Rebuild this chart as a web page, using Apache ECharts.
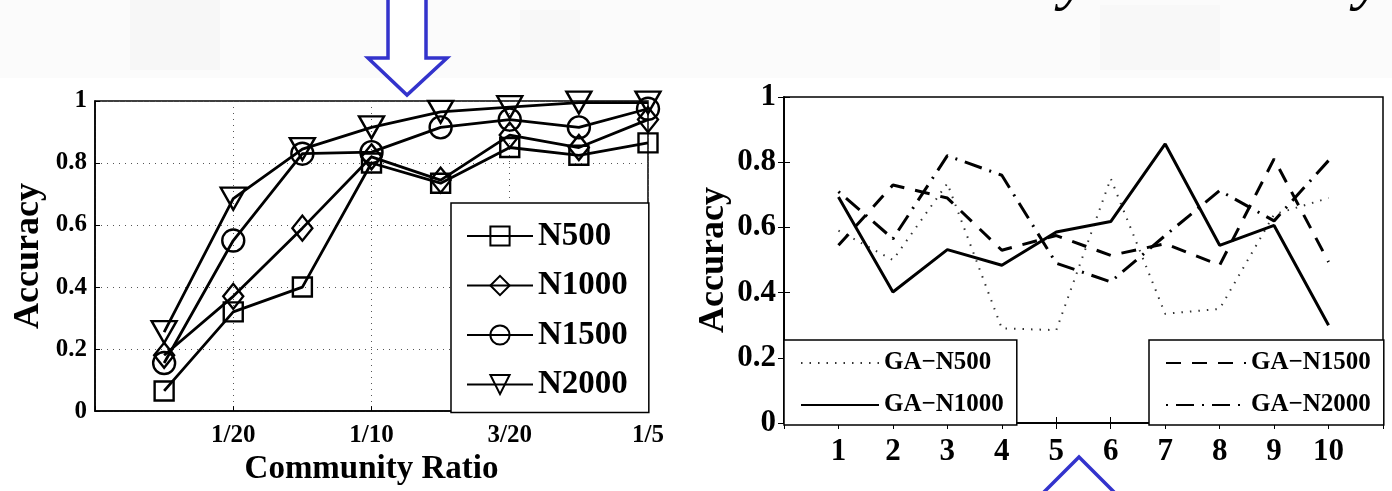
<!DOCTYPE html>
<html>
<head>
<meta charset="utf-8">
<script src="https://cdn.jsdelivr.net/npm/echarts/dist/echarts.min.js"></script>
<style>
  html, body { margin: 0; padding: 0; background: #fff; }
  #main { width: 1392px; height: 491px; }
</style>
</head>
<body>
<div id="main"></div>
<script>
// left panel: accuracy vs community ratio
var ratios = [0.025, 0.05, 0.075, 0.1, 0.125, 0.15, 0.175, 0.2];
var ratioLabels = ['', '1/20', '1/10', '3/20', '1/5'];
var accN500  = [0.065, 0.32, 0.40, 0.80, 0.735, 0.85, 0.825, 0.865];
var accN1000 = [0.18, 0.37, 0.59, 0.82, 0.745, 0.89, 0.85, 0.94];
var accN1500 = [0.155, 0.55, 0.83, 0.835, 0.915, 0.94, 0.915, 0.975];
var accN2000 = [0.255, 0.685, 0.845, 0.915, 0.965, 0.98, 0.995, 0.995];

// right panel: GA accuracy per run
var runs = [1, 2, 3, 4, 5, 6, 7, 8, 9, 10];
var gaN500  = [0.59, 0.50, 0.735, 0.29, 0.285, 0.75, 0.335, 0.35, 0.64, 0.69];
var gaN1000 = [0.693, 0.402, 0.532, 0.484, 0.586, 0.618, 0.856, 0.545, 0.606, 0.30];
var gaN1500 = [0.545, 0.73, 0.69, 0.53, 0.575, 0.514, 0.55, 0.484, 0.81, 0.494];
var gaN2000 = [0.71, 0.565, 0.82, 0.76, 0.49, 0.433, 0.575, 0.713, 0.62, 0.805];

var FONT = 'Liberation Serif';

function pairs(xs, ys) {
    return xs.map(function (x, i) { return [x, ys[i]]; });
}

// 左图折线
function markerSeries(name, data, symbol, size, rotate) {
    return {
        name: name,
        type: 'line',
        xAxisIndex: 0,
        yAxisIndex: 0,
        data: pairs(ratios, data),
        symbol: symbol,
        symbolSize: size,
        symbolRotate: rotate || 0,
        lineStyle: { color: '#000', width: 2.8 },
        itemStyle: { color: 'rgba(255,255,255,0)', borderColor: '#000', borderWidth: 2.4 },
        emphasis: { disabled: true },
        z: 3
    };
}

// 右图折线
function gaSeries(name, data, type, width, color) {
    return {
        name: name,
        type: 'line',
        xAxisIndex: 1,
        yAxisIndex: 1,
        data: pairs(runs, data),
        symbol: 'none',
        lineStyle: { color: color || '#000', width: width, type: type },
        itemStyle: { color: color || '#000' },
        emphasis: { disabled: true },
        z: 3
    };
}

var tickLabel = { fontFamily: FONT, fontWeight: 'bold', color: '#000' };

var chart = echarts.init(document.getElementById('main'));
var option = {
    animation: false,
    backgroundColor: '#fff',
    textStyle: { fontFamily: FONT },
    grid: [
        { left: 95, top: 101, width: 553, height: 311, show: true, borderColor: '#000', borderWidth: 1.5, backgroundColor: '#fff' },
        { left: 784, top: 97, width: 599, height: 326, show: true, borderColor: '#000', borderWidth: 1.5, backgroundColor: '#fff' }
    ],
    xAxis: [
        {
            gridIndex: 0, type: 'value', min: 0, max: 0.2, interval: 0.05,
            name: 'Community Ratio', nameLocation: 'middle', nameGap: 41,
            nameTextStyle: { fontFamily: FONT, fontWeight: 'bold', fontSize: 33, color: '#000' },
            axisLine: { lineStyle: { color: '#000', width: 1.5 } },
            axisTick: { inside: true, length: 5, lineStyle: { color: '#000' } },
            axisLabel: Object.assign({ fontSize: 25, margin: 12, formatter: function (v) {
                return ratioLabels[Math.round(v * 20)] || '';
            } }, tickLabel),
            splitLine: { show: true, lineStyle: { color: '#555', width: 1, type: [1, 5] } }
        },
        {
            gridIndex: 1, type: 'value', min: 0, max: 11, interval: 1,
            axisLine: { lineStyle: { color: '#000', width: 1.5 } },
            axisTick: { inside: true, length: 6, lineStyle: { color: '#000' } },
            axisLabel: Object.assign({ fontSize: 31, margin: 13, formatter: function (v) {
                return (v >= 1 && v <= 10) ? String(v) : '';
            } }, tickLabel),
            splitLine: { show: false }
        },
        {
            gridIndex: 1, type: 'value', min: 0, max: 11, interval: 1, position: 'top',
            axisLine: { lineStyle: { color: '#000', width: 1.5 } },
            axisTick: { inside: true, length: 6, lineStyle: { color: '#000' } },
            axisLabel: { show: false },
            splitLine: { show: false }
        }
    ],
    yAxis: [
        {
            gridIndex: 0, type: 'value', min: 0, max: 1, interval: 0.2,
            name: 'Accuracy', nameLocation: 'middle', nameGap: 48, nameRotate: 90,
            nameTextStyle: { fontFamily: FONT, fontWeight: 'bold', fontSize: 36, color: '#000' },
            axisLine: { lineStyle: { color: '#000', width: 1.5 } },
            axisTick: { inside: true, length: 5, lineStyle: { color: '#000' } },
            axisLabel: Object.assign({ fontSize: 25, margin: 8 }, tickLabel),
            splitLine: { show: true, lineStyle: { color: '#555', width: 1, type: [1, 5] } }
        },
        {
            gridIndex: 1, type: 'value', min: 0, max: 1, interval: 0.2,
            name: 'Accuracy', nameLocation: 'middle', nameGap: 52, nameRotate: 90,
            nameTextStyle: { fontFamily: FONT, fontWeight: 'bold', fontSize: 36, color: '#000' },
            axisLine: { lineStyle: { color: '#000', width: 1.5 } },
            axisTick: { inside: true, length: 6, lineStyle: { color: '#000' } },
            axisLabel: Object.assign({ fontSize: 31, margin: 8 }, tickLabel),
            splitLine: { show: false }
        },
        {
            gridIndex: 1, type: 'value', min: 0, max: 1, interval: 0.2, position: 'right',
            axisLine: { lineStyle: { color: '#000', width: 1.5 } },
            axisTick: { inside: true, length: 6, lineStyle: { color: '#000' } },
            axisLabel: { show: false },
            splitLine: { show: false }
        }
    ],
    legend: [
        {
            data: ['N500', 'N1000', 'N1500', 'N2000'],
            orient: 'vertical', left: 451, top: 203,
            itemWidth: 66, itemHeight: 24, itemGap: 16.5,
            padding: [16.5, 21, 11.5, 15],
            backgroundColor: '#fff', borderColor: '#000', borderWidth: 1.5, borderRadius: 0,
            textStyle: { fontFamily: FONT, fontWeight: 'bold', fontSize: 33, color: '#000' },
            selectedMode: false
        },
        {
            data: ['GA\u2212N500', 'GA\u2212N1000'],
            orient: 'vertical', left: 784, top: 340,
            itemWidth: 78, itemHeight: 14, itemGap: 17,
            padding: [10.5, 13, 7.5, 16],
            backgroundColor: '#fff', borderColor: '#000', borderWidth: 1.5, borderRadius: 0,
            itemStyle: { opacity: 0 },
            textStyle: { fontFamily: FONT, fontWeight: 'bold', fontSize: 25, color: '#000' },
            selectedMode: false
        },
        {
            data: ['GA\u2212N1500', 'GA\u2212N2000'],
            orient: 'vertical', left: 1149, top: 340,
            itemWidth: 80, itemHeight: 14, itemGap: 17,
            padding: [10.5, 13, 7.5, 16],
            backgroundColor: '#fff', borderColor: '#000', borderWidth: 1.5, borderRadius: 0,
            itemStyle: { opacity: 0 },
            textStyle: { fontFamily: FONT, fontWeight: 'bold', fontSize: 25, color: '#000' },
            selectedMode: false
        }
    ],
    graphic: [
        // faint slide background at the top
        { type: 'rect', shape: { x: 0, y: 0, width: 1392, height: 78 }, style: { fill: '#fbfbfb' }, z: -10 },
        { type: 'rect', shape: { x: 130, y: 0, width: 90, height: 70 }, style: { fill: '#f7f7f7' }, z: -9 },
        { type: 'rect', shape: { x: 520, y: 10, width: 60, height: 60 }, style: { fill: '#f8f8f8' }, z: -9 },
        { type: 'rect', shape: { x: 1100, y: 5, width: 120, height: 65 }, style: { fill: '#f8f8f8' }, z: -9 },
        // italic letters cut off at the top edge
        { type: 'text', x: 1060, y: 12, style: { text: 'y', font: 'italic 64px "Liberation Serif"', fill: '#000', verticalAlign: 'bottom' }, z: 10 },
        { type: 'text', x: 1355, y: 12, style: { text: 'y', font: 'italic 64px "Liberation Serif"', fill: '#000', verticalAlign: 'bottom' }, z: 10 },
        // blue arrows
        {
            type: 'polygon', z: 20,
            shape: { points: [[388, -5], [426, -5], [426, 58], [447, 58], [407, 95], [368, 58], [388, 58]] },
            style: { fill: '#fff', stroke: '#3333cc', lineWidth: 3.5 }
        },
        {
            type: 'polygon', z: 20,
            shape: { points: [[1079, 457], [1118, 496], [1098, 496], [1098, 520], [1060, 520], [1060, 496], [1040, 496]] },
            style: { fill: '#fff', stroke: '#3333cc', lineWidth: 3.5 }
        }
    ],
    series: [
        markerSeries('N500', accN500, 'rect', 19),
        markerSeries('N1000', accN1000, 'diamond', [20, 25]),
        markerSeries('N1500', accN1500, 'circle', 22),
        markerSeries('N2000', accN2000, 'triangle', [25, 22], 180),
        gaSeries('GA\u2212N500', gaN500, [1.5, 7], 2, '#333'),
        gaSeries('GA\u2212N1000', gaN1000, 'solid', 3),
        gaSeries('GA\u2212N1500', gaN1500, [15, 11], 3),
        gaSeries('GA\u2212N2000', gaN2000, [2, 8, 18, 8], 3)
    ]
};
chart.setOption(option);
</script>
</body>
</html>
